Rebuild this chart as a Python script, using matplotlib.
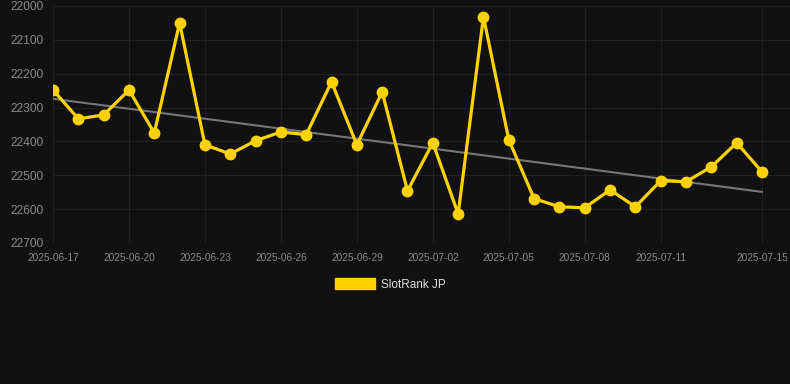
import matplotlib
matplotlib.use("Agg")
import matplotlib.pyplot as plt
import matplotlib.dates as mdates
import numpy as np
import pandas as pd
from matplotlib.patches import Patch

plt.rcParams['font.family'] = ['Liberation Sans', 'DejaVu Sans']

dates = pd.date_range("2025-06-17", "2025-07-15", freq="D")
ranks = [22248, 22333, 22322, 22248, 22375, 22050, 22410, 22437, 22398, 22372,
         22380, 22224, 22410, 22254, 22546, 22404, 22614, 22032, 22395, 22569,
         22593, 22596, 22543, 22593, 22516, 22519, 22475, 22404, 22490]
trend_dates = ["2025-06-17", "2025-07-15"]
trend_values = [22274, 22549]
tick_labels = ["2025-06-17", "2025-06-20", "2025-06-23", "2025-06-26", "2025-06-29",
               "2025-07-02", "2025-07-05", "2025-07-08", "2025-07-11", "2025-07-15"]
y_ticks = [22000, 22100, 22200, 22300, 22400, 22500, 22600, 22700]
series_name = "SlotRank JP"

bg = "#111111"
gold = "#FFD200"

fig = plt.figure(figsize=(7.9, 3.84), dpi=100, facecolor=bg)
ax = fig.add_axes([53/790, 1 - 243/384, 1 - 53/790, (243 - 6)/384])
ax.set_facecolor(bg)

x = mdates.date2num(dates)
tx = mdates.date2num(pd.to_datetime(trend_dates))
ax.plot(tx, trend_values, color="#767676", lw=1.5, zorder=2)
ax.plot(x, ranks, color=gold, lw=2.3, marker="o", ms=7.5, zorder=3)

ax.set_ylim(22700, 22000)
ax.set_yticks(y_ticks)
ax.set_yticklabels([str(v) for v in y_ticks])
xmin = x[0]
ax.set_xlim(xmin, xmin + (790 - 53) / ((762 - 53) / 28))
tick_pos = mdates.date2num(pd.to_datetime(tick_labels))
ax.set_xticks(tick_pos)
ax.set_xticklabels(tick_labels)

ax.grid(True, color="#202020", lw=0.8)
ax.set_axisbelow(True)
for s in ax.spines.values():
    s.set_visible(False)
ax.tick_params(axis="y", length=0, pad=6.5, labelsize=8.6, labelcolor="#8a8a8a")
ax.tick_params(axis="x", length=0, pad=7, labelsize=7.3, labelcolor="#8a8a8a")

handle = Patch(facecolor=gold, edgecolor=gold)
fig.legend([handle], [series_name], loc="center", bbox_to_anchor=(390/790, 1 - 284.5/384),
           frameon=False, fontsize=8.5, labelcolor="#dddddd",
           handlelength=3.4, handleheight=1.0, handletextpad=0.5)

fig.savefig("out.png", dpi=100, facecolor=bg)
